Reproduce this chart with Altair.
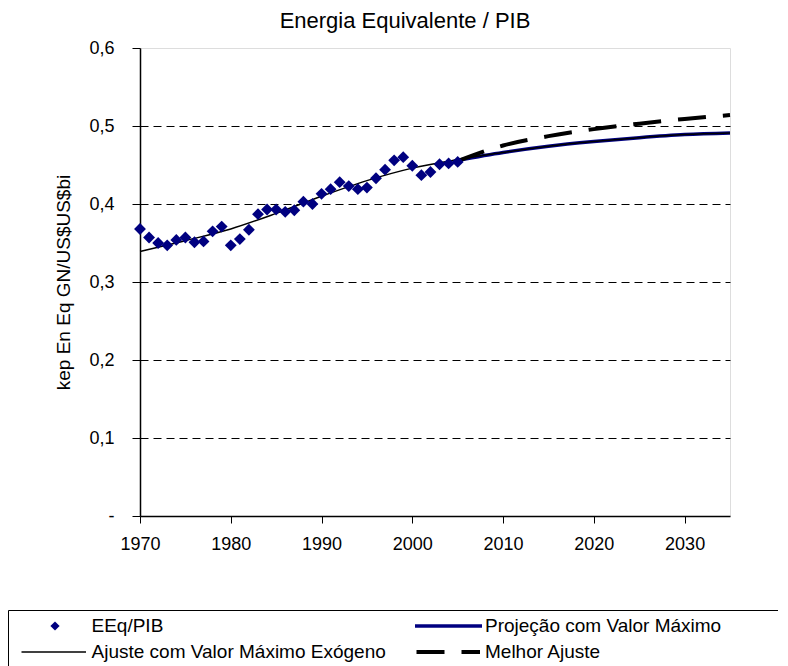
import altair as alt
import pandas as pd

# ---------------- data ----------------
years_obs = list(range(1970, 2006))
eeq_pib = [0.368, 0.357, 0.350, 0.347, 0.354, 0.357, 0.351, 0.352, 0.365, 0.371,
           0.347, 0.355, 0.367, 0.387, 0.393, 0.393, 0.390, 0.392, 0.403, 0.400,
           0.413, 0.419, 0.428, 0.423, 0.419, 0.421, 0.433, 0.444, 0.456, 0.460,
           0.449, 0.437, 0.441, 0.451, 0.452, 0.454]

fit_years = [1970, 1975, 1980, 1985, 1990, 1995, 2000, 2005, 2010, 2015, 2020, 2025, 2030, 2035]
fit_values = [0.339, 0.353, 0.368, 0.388, 0.410, 0.430, 0.446, 0.457, 0.466, 0.474, 0.480, 0.485, 0.489, 0.491]

proj_years = [2005, 2010, 2015, 2020, 2025, 2030, 2035]
proj_values = [0.456, 0.466, 0.474, 0.480, 0.485, 0.489, 0.491]

best_years = [2005, 2010, 2015, 2020, 2025, 2030, 2035]
best_values = [0.455, 0.475, 0.487, 0.496, 0.503, 0.509, 0.514]

x_ticks = [1970, 1980, 1990, 2000, 2010, 2020, 2030]
y_ticks = [0, 0.1, 0.2, 0.3, 0.4, 0.5, 0.6]

chart_title = "Energia Equivalente / PIB"
y_title = "kep En Eq GN/US$US$bi"
legend_labels = ["EEq/PIB", "Projeção com Valor Máximo",
                 "Ajuste com Valor Máximo Exógeno", "Melhor Ajuste"]

# ---------------- tables ----------------
obs_df = pd.DataFrame({"ano": years_obs, "valor": eeq_pib})
fit_df = pd.DataFrame({"ano": fit_years, "valor": fit_values})
proj_df = pd.DataFrame({"ano": proj_years, "valor": proj_values})
best_df = pd.DataFrame({"ano": best_years, "valor": best_values})

FONT = "Liberation Sans"
NAVY = "#000080"

xscale = alt.Scale(domain=[1970, 2035], nice=False, zero=False)
yscale = alt.Scale(domain=[0, 0.6], nice=False, zero=True)

xaxis = alt.Axis(values=x_ticks, format="d", title=None, grid=False,
                 labelFontSize=18, labelFont=FONT, labelColor="black",
                 tickSize=7, tickColor="black", domainColor="black", domainWidth=1.5,
                 labelPadding=12, labelFlush=False, labelOverlap=False)
yaxis = alt.Axis(values=y_ticks, title=y_title,
                 labelExpr="datum.value == 0 ? '-' : replace(format(datum.value, '.1f'), '.', ',')",
                 labelFontSize=18, labelFont=FONT, labelColor="black",
                 tickSize=8, tickColor="black", domainColor="black", domainWidth=1.5,
                 labelPadding=18, labelFlush=False, labelOverlap=False,
                 grid=True, gridColor="black", gridDash=[8, 5], gridWidth=1,
                 gridOpacity={"condition": {"test": "datum.value == 0 || datum.value > 0.59", "value": 0}, "value": 1},
                 titleFont=FONT, titleFontSize=19, titleFontWeight="normal", titleColor="black",
                 titleAngle=270, titleX=-67, titleY=234, titleAlign="center", titleBaseline="bottom")

X = alt.X("ano:Q", scale=xscale, axis=xaxis)
Y = alt.Y("valor:Q", scale=yscale, axis=yaxis)

proj = alt.Chart(proj_df).mark_line(color=NAVY, strokeWidth=3.5, interpolate="monotone").encode(x=X, y=Y)
fit = alt.Chart(fit_df).mark_line(color="black", strokeWidth=1.5, interpolate="monotone").encode(x=X, y=Y)
best = alt.Chart(best_df).mark_line(color="black", strokeWidth=4, strokeDash=[28, 17],
                                    interpolate="monotone").encode(x=X, y=Y)
pts = alt.Chart(obs_df).mark_point(shape="diamond", filled=True, size=140, color=NAVY,
                                   opacity=1, strokeWidth=0).encode(x=X, y=Y)

# ---------------- title ----------------
one = pd.DataFrame({"t": [chart_title]})
title = alt.Chart(one).mark_text(font=FONT, fontSize=22, color="black", align="center",
                                 baseline="alphabetic").encode(
    x=alt.value(265), y=alt.value(-20), text="t:N")

# ---------------- legend (drawn by hand) ----------------
ROW1 = 578
ROW2 = 604
box = alt.Chart(pd.DataFrame({"a": [0]})).mark_rect(filled=False, stroke="black", strokeWidth=1,
                                                    fill=None).encode(
    x=alt.value(-131.5), x2=alt.value(700), y=alt.value(562.5), y2=alt.value(700))

lg_diamond = alt.Chart(pd.DataFrame({"a": [0]})).mark_point(shape="diamond", filled=True, size=85,
                                                           color=NAVY, opacity=1, strokeWidth=0).encode(
    x=alt.value(-85), y=alt.value(ROW1))
lg_blue = alt.Chart(pd.DataFrame({"a": [0]})).mark_rule(color=NAVY, strokeWidth=3.5).encode(
    x=alt.value(275), x2=alt.value(342), y=alt.value(ROW1))
lg_black = alt.Chart(pd.DataFrame({"a": [0]})).mark_rule(color="black", strokeWidth=1.5).encode(
    x=alt.value(-118.5), x2=alt.value(-54), y=alt.value(ROW2))
lg_dash = alt.Chart(pd.DataFrame({"a": [0]})).mark_rule(color="black", strokeWidth=4,
                                                       strokeDash=[28, 17]).encode(
    x=alt.value(276.5), x2=alt.value(340), y=alt.value(ROW2))


def lg_text(label, x, y):
    return alt.Chart(pd.DataFrame({"t": [label]})).mark_text(
        font=FONT, fontSize=19, color="black", align="left", baseline="middle").encode(
        x=alt.value(x), y=alt.value(y), text="t:N")


legend_layers = [
    lg_text(legend_labels[0], -48.5, ROW1),
    lg_text(legend_labels[1], 345, ROW1),
    lg_text(legend_labels[2], -48.5, ROW2),
    lg_text(legend_labels[3], 345, ROW2),
]

chart = alt.layer(proj, fit, best, pts, title, box, lg_diamond, lg_blue, lg_black, lg_dash,
                  *legend_layers).properties(
    width=590, height=468,
    autosize=alt.AutoSizeParams(type="none"),
    padding={"left": 132, "top": 40, "right": 48, "bottom": 150},
).configure_view(stroke="#8c8c8c", strokeWidth=1.5).configure(background="white")

chart.save("out.html", embed_options={"renderer": "svg", "actions": False})
